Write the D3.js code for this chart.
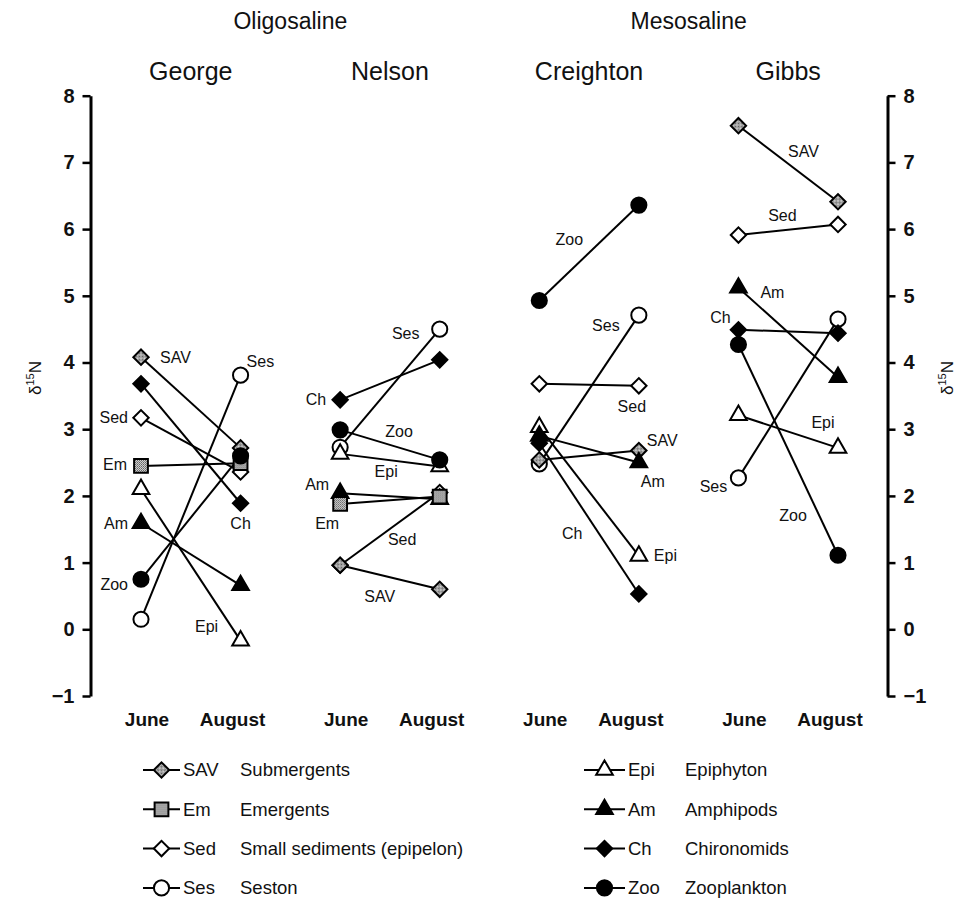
<!DOCTYPE html>
<html>
<head>
<meta charset="utf-8">
<script src="https://cdn.jsdelivr.net/npm/d3@7"></script>
<style>
body { margin: 0; background: #fff; }
text { font-family: "Liberation Sans", Arial, sans-serif; fill: #111; }
</style>
</head>
<body>
<svg id="chart" width="974" height="911"></svg>
<script>
// categories
const groups = ["Oligosaline", "Mesosaline"];
const lakes = ["George", "Nelson", "Creighton", "Gibbs"];
const periods = ["June", "August"];
const yTicks = [-1, 0, 1, 2, 3, 4, 5, 6, 7, 8];

// d15N, [June, August] per lake (George, Nelson, Creighton, Gibbs)
const sav = [[4.08, 2.72], [0.96, 0.60], [2.54, 2.68], [7.55, 6.41]];
const em  = [[2.45, 2.49], [1.88, 1.99], null, null];
const sed = [[3.17, 2.36], [0.96, 2.05], [3.68, 3.65], [5.91, 6.07]];
const ses = [[0.15, 3.81], [2.73, 4.50], [2.48, 4.71], [2.27, 4.65]];
const epi = [[2.10, -0.17], [2.63, 2.44], [3.03, 1.10], [3.21, 2.72]];
const am  = [[1.59, 0.66], [2.04, 1.95], [2.90, 2.50], [5.12, 3.78]];
const ch  = [[3.68, 1.89], [3.44, 4.04], [2.79, 0.53], [4.49, 4.44]];
const zoo = [[0.75, 2.60], [2.99, 2.54], [4.93, 6.36], [4.27, 1.11]];

const codes = ["SAV", "Em", "Sed", "Ses", "Epi", "Am", "Ch", "Zoo"];
const names = ["Submergents", "Emergents", "Small sediments (epipelon)", "Seston",
               "Epiphyton", "Amphipods", "Chironomids", "Zooplankton"];

// in-plot labels: lake, code, period the label sits next to
const labelSpots = [
  ["George", "SAV", "June"], ["George", "Ses", "August"], ["George", "Sed", "June"],
  ["George", "Em", "June"], ["George", "Am", "June"], ["George", "Zoo", "June"],
  ["George", "Ch", "August"], ["George", "Epi", "August"],
  ["Nelson", "Ses", "August"], ["Nelson", "Ch", "June"], ["Nelson", "Zoo", "June"],
  ["Nelson", "Epi", "June"], ["Nelson", "Am", "June"], ["Nelson", "Em", "June"],
  ["Nelson", "Sed", "June"], ["Nelson", "SAV", "August"],
  ["Creighton", "Zoo", "June"], ["Creighton", "Ses", "August"], ["Creighton", "Sed", "August"],
  ["Creighton", "SAV", "August"], ["Creighton", "Am", "August"], ["Creighton", "Ch", "June"],
  ["Creighton", "Epi", "August"],
  ["Gibbs", "SAV", "June"], ["Gibbs", "Sed", "June"], ["Gibbs", "Am", "June"],
  ["Gibbs", "Ch", "June"], ["Gibbs", "Epi", "August"], ["Gibbs", "Ses", "June"],
  ["Gibbs", "Zoo", "August"]
];
// label offsets from the marker [dx, dy, anchor], same order as labelSpots
const labelOffsets = [
  [19, 0, "start"], [6, -14, "start"], [-13, 0, "end"],
  [-14, -1, "end"], [-13, 0, "end"], [-13, 5, "end"],
  [0, 20, "middle"], [-34, -14, "middle"],
  [-34, 4, "middle"], [-14, 0, "end"], [59, 2, "middle"],
  [46, 18, "middle"], [-11, -9, "end"], [-13, 19, "middle"],
  [62, -26, "middle"], [-60, 7, "middle"],
  [30, -61, "middle"], [-33, 10, "middle"], [-7, 21, "middle"],
  [8, -10, "start"], [14, 19, "middle"], [33, 90, "middle"],
  [15, -1, "start"],
  [65, 26, "middle"], [44, -20, "middle"], [34, 5, "middle"],
  [-18, -12, "middle"], [-15, -25, "middle"], [-25, 9, "middle"],
  [-45, -40, "middle"]
];

const values = { SAV: sav, Em: em, Sed: sed, Ses: ses, Epi: epi, Am: am, Ch: ch, Zoo: zoo };
const shape = { SAV: "diamond", Em: "square", Sed: "diamond", Ses: "circle",
                Epi: "triangle", Am: "triangle", Ch: "diamond", Zoo: "circle" };
const fill = { SAV: "url(#shade)", Em: "url(#shade)", Sed: "#fff", Ses: "#fff",
               Epi: "#fff", Am: "#000", Ch: "#000", Zoo: "#000" };
const drawOrder = ["Ses", "Sed", "SAV", "Epi", "Am", "Em", "Ch", "Zoo"];

const svg = d3.select("#chart");

const defs = svg.append("defs");
const pat = defs.append("pattern").attr("id", "shade")
  .attr("width", 2).attr("height", 2).attr("patternUnits", "userSpaceOnUse");
pat.append("rect").attr("width", 2).attr("height", 2).attr("fill", "#dcdcdc");
pat.append("rect").attr("width", 1).attr("height", 1).attr("fill", "#555");
pat.append("rect").attr("x", 1).attr("y", 1).attr("width", 1).attr("height", 1).attr("fill", "#777");

const keys = lakes.flatMap(l => periods.map(p => l + "|" + p));
const x = d3.scalePoint().domain(keys).range([141, 838]);
const y = d3.scaleLinear().domain([-1, 8]).range([696, 95.7]);

const xLeft = 90.5, xRight = 887.5;

function symbolFor(s) {
  if (s === "diamond") return d3.symbol(d3.symbolSquare, 118)();
  if (s === "square") return d3.symbol(d3.symbolSquare, 190)();
  if (s === "triangle") return d3.symbol(d3.symbolTriangle, 120)();
  return d3.symbol(d3.symbolCircle, 180)();
}
function drawMarker(g, code, cx, cy) {
  g.append("path")
    .attr("d", symbolFor(shape[code]))
    .attr("transform", `translate(${cx},${cy})` + (shape[code] === "diamond" ? " rotate(45)" : ""))
    .attr("fill", fill[code])
    .attr("stroke", "#000")
    .attr("stroke-width", 2);
}

// axes
function styleAxis(g) {
  g.select(".domain").attr("stroke-width", 3).attr("stroke", "#000");
  g.selectAll(".tick line").attr("stroke-width", 2.5).attr("stroke", "#000");
  g.selectAll(".tick text").attr("font-size", 20).attr("font-weight", "bold").attr("fill", "#111")
    .attr("font-family", "Liberation Sans, Arial, sans-serif");
}
const fmt = d3.format("d");
svg.append("g").attr("transform", `translate(${xLeft},0)`)
  .call(d3.axisLeft(y).tickValues(yTicks).tickSize(8).tickSizeOuter(0).tickPadding(8).tickFormat(fmt))
  .call(styleAxis);
svg.append("g").attr("transform", `translate(${xRight},0)`)
  .call(d3.axisRight(y).tickValues(yTicks).tickSize(8).tickSizeOuter(0).tickPadding(8).tickFormat(fmt))
  .call(styleAxis);

// y titles
function yTitle(cx) {
  const t = svg.append("text")
    .attr("transform", `translate(${cx},378) rotate(-90)`)
    .attr("text-anchor", "middle")
    .attr("font-size", 17);
  t.append("tspan").text("δ");
  t.append("tspan").attr("font-size", 11).attr("dy", -7).text("15");
  t.append("tspan").attr("dy", 7).text("N");
}
yTitle(41);
yTitle(953);

// titles
const lakeCenter = l => (x(l + "|June") + x(l + "|August")) / 2;
svg.selectAll(".lake").data(lakes).enter().append("text")
  .attr("x", lakeCenter).attr("y", 80)
  .attr("text-anchor", "middle").attr("font-size", 25)
  .text(d => d);
svg.selectAll(".group").data(groups).enter().append("text")
  .attr("x", (d, i) => (lakeCenter(lakes[i * 2]) + lakeCenter(lakes[i * 2 + 1])) / 2)
  .attr("y", 29)
  .attr("text-anchor", "middle").attr("font-size", 23)
  .text(d => d);
svg.selectAll(".period").data(keys).enter().append("text")
  .attr("x", d => x(d) + (d.endsWith("June") ? 6 : -8))
  .attr("y", 726)
  .attr("text-anchor", "middle").attr("font-size", 19).attr("font-weight", "bold")
  .text(d => d.split("|")[1]);

// lines
const plot = svg.append("g");
const lineGen = d3.line().x(d => d[0]).y(d => d[1]);
codes.forEach(code => {
  values[code].forEach((v, li) => {
    if (!v) return;
    const pts = periods.map((p, pi) => [x(lakes[li] + "|" + p), y(v[pi])]);
    plot.append("path").attr("d", lineGen(pts))
      .attr("fill", "none").attr("stroke", "#000").attr("stroke-width", 2);
  });
});
// markers
drawOrder.forEach(code => {
  values[code].forEach((v, li) => {
    if (!v) return;
    periods.forEach((p, pi) => drawMarker(plot, code, x(lakes[li] + "|" + p), y(v[pi])));
  });
});

// point labels
labelSpots.forEach((s, i) => {
  const [lake, code, period] = s;
  const li = lakes.indexOf(lake), pi = periods.indexOf(period);
  const o = labelOffsets[i];
  svg.append("text")
    .attr("x", x(lake + "|" + period) + o[0])
    .attr("y", y(values[code][li][pi]) + o[1])
    .attr("dy", "0.35em")
    .attr("text-anchor", o[2])
    .attr("font-size", 16)
    .text(code);
});

// legend
const legend = svg.append("g");
codes.forEach((code, i) => {
  const col = Math.floor(i / 4), row = i % 4;
  const ly = 770 + row * 39.3;
  const x0 = col === 0 ? 143 : 584, x1 = col === 0 ? 180 : 625;
  const mx = (x0 + x1) / 2;
  legend.append("line").attr("x1", x0).attr("x2", x1).attr("y1", ly).attr("y2", ly)
    .attr("stroke", "#000").attr("stroke-width", 2);
  drawMarker(legend, code, mx, ly);
  legend.append("text").attr("x", x1 + 3).attr("y", ly).attr("dy", "0.35em")
    .attr("font-size", 18.5).text(code);
  legend.append("text").attr("x", col === 0 ? 240 : 685).attr("y", ly).attr("dy", "0.35em")
    .attr("font-size", 18.5).text(names[i]);
});
</script>
</body>
</html>
